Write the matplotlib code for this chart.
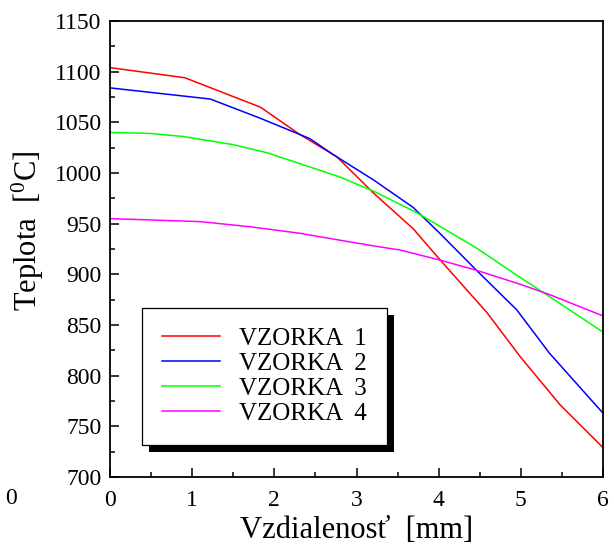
import matplotlib
matplotlib.use("Agg")
import matplotlib.pyplot as plt
from matplotlib.patches import Rectangle
from matplotlib.transforms import IdentityTransform
from matplotlib.ticker import MultipleLocator

plt.rcParams['font.family'] = ['Liberation Serif', 'DejaVu Serif']
plt.rcParams['mathtext.fontset'] = 'custom'
plt.rcParams['mathtext.rm'] = 'Liberation Serif'
plt.rcParams['mathtext.default'] = 'regular'

# Data
x1 = [0, 0.91, 1.83, 2.31, 2.76, 3.21, 3.69, 4.02, 4.59, 4.99, 5.48, 6.0]
y1 = [1104, 1094, 1065, 1038, 1016, 980, 945, 914, 862, 819, 771, 729]
x2 = [0, 1.22, 1.83, 2.43, 2.72, 3.21, 3.69, 4.02, 4.46, 4.95, 5.35, 6.0]
y2 = [1084, 1073, 1054, 1034, 1018, 993, 966, 940, 904, 865, 822, 763]
x3 = [0, 0.5, 0.89, 1.5, 1.91, 2.43, 2.8, 3.21, 3.73, 4.46, 4.99, 5.35, 6.0]
y3 = [1040, 1039, 1036, 1028, 1020, 1006, 996, 982, 961, 926, 897, 878, 843]
x4 = [0, 1.1, 1.7, 2.31, 2.92, 3.29, 3.53, 4.02, 4.46, 5.0, 5.35, 6.0]
y4 = [955, 952, 947, 940.5, 932, 927, 924, 914, 904, 890, 880, 859]
labels = ["VZORKA  1", "VZORKA  2", "VZORKA  3", "VZORKA  4"]
colors = ["#ff0000", "#0000ff", "#00ff00", "#ff00ff"]

fig = plt.figure(figsize=(6.14, 5.47), dpi=100)
ax = fig.add_axes([110/614, 1-477/547, 493/614, 456/547])

for xs, ys, lab, c in zip([x1, x2, x3, x4], [y1, y2, y3, y4], labels, colors):
    ax.plot(xs, ys, color=c, lw=1.1, label=lab)

ax.set_xlim(0, 6)
ax.set_ylim(700, 1150)
ax.xaxis.set_major_locator(MultipleLocator(1))
ax.xaxis.set_minor_locator(MultipleLocator(0.5))
ax.yaxis.set_major_locator(MultipleLocator(50))
ax.yaxis.set_minor_locator(MultipleLocator(25))
ax.tick_params(which='both', direction='in', top=False, right=False, width=1.1)
ax.tick_params(which='major', length=6.5, labelsize=17)
ax.tick_params(axis='x', which='major', pad=9)
ax.tick_params(axis='y', which='major', pad=6)
ax.tick_params(which='minor', length=3.5)
for s in ax.spines.values():
    s.set_linewidth(1.3)

ax.set_xlabel("Vzdialenosť  [mm]", fontsize=22)
ax.xaxis.set_label_coords(0.5, -0.086)
ax.set_ylabel("Teplota  [$^{0}$C]", fontsize=22)
ax.yaxis.set_label_coords(-0.13, 0.54)

leg = ax.legend(loc='lower left', bbox_to_anchor=(0.064, 0.070), borderaxespad=0,
                fontsize=18, frameon=True, fancybox=False, handlelength=2.35,
                handletextpad=0.75, borderpad=0.8, labelspacing=0.1, framealpha=1)
leg.get_frame().set_edgecolor('black')
leg.get_frame().set_facecolor('white')
leg.get_frame().set_linewidth(0.9)
leg.set_zorder(10)

fig.text(5/614, 1-499/547, "0", fontsize=17, ha='left', va='center')

fig.canvas.draw()
bb = leg.get_window_extent()
sh = Rectangle((bb.x0 + 7, bb.y0 - 7), bb.width, bb.height, transform=IdentityTransform(),
               facecolor='black', edgecolor='none', zorder=9)
ax.add_artist(sh)

fig.savefig("out.png", dpi=100)
